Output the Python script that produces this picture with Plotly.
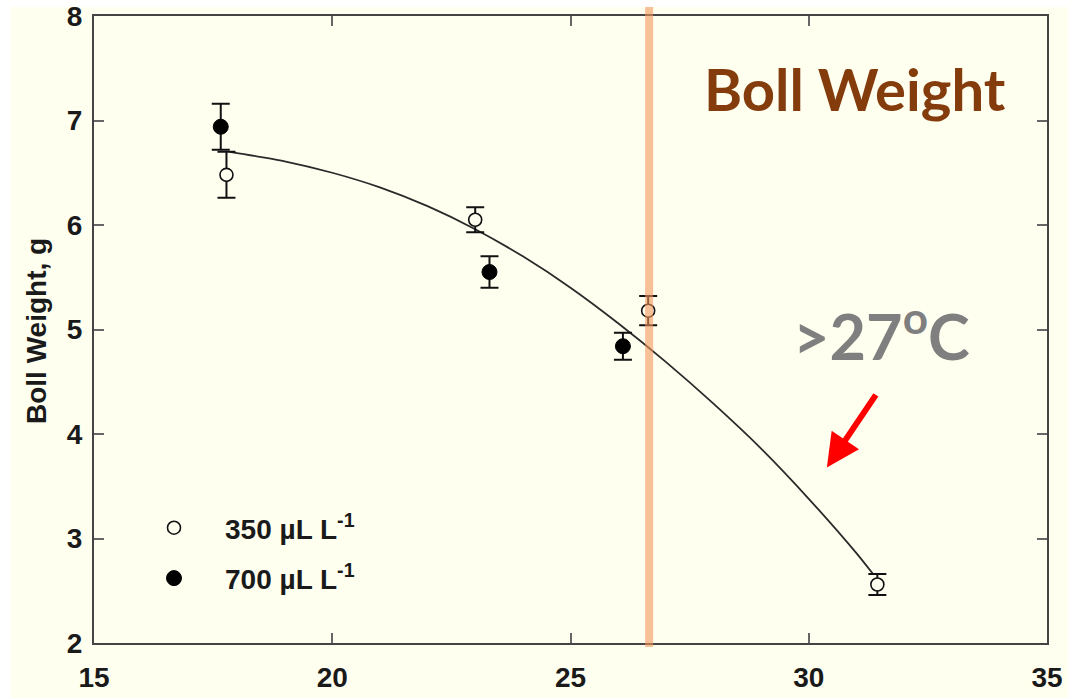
import plotly.graph_objects as go

# Data
temp_350 = [17.78, 23.0, 26.63, 31.44]
wt_350 = [6.48, 6.05, 5.18, 2.56]
err_350 = [0.22, 0.12, 0.14, 0.10]

temp_700 = [17.66, 23.3, 26.1]
wt_700 = [6.94, 5.55, 4.84]
err_700 = [0.22, 0.15, 0.13]

fit_x = [17.85, 19.0, 20.0, 21.0, 22.0, 23.0, 24.0, 25.0, 26.0, 27.0, 28.0, 29.0, 30.0, 31.0, 31.35]
fit_y = [6.70, 6.61, 6.50, 6.36, 6.18, 5.96, 5.70, 5.40, 5.06, 4.69, 4.29, 3.86, 3.38, 2.86, 2.66]

x_ticks = [15, 20, 25, 30, 35]
y_ticks = [2, 3, 4, 5, 6, 7, 8]
threshold_x = 26.65

BG = "#FFFFF0"
W, H = 1068, 698
L, R, T, B = 94, 21, 16, 55
pw, ph = W - L - R, H - T - B

# helpers: pixel -> paper coordinates
def px(xp):
    return (xp - L) / pw

def py(yp):
    return (H - B - yp) / ph

fig = go.Figure()

fig.add_trace(go.Scatter(
    x=fit_x, y=fit_y, mode="lines", line=dict(color="#2a2a2a", width=1.8, shape="spline", smoothing=0.6),
    showlegend=False, hoverinfo="skip"))

fig.add_trace(go.Scatter(
    x=temp_350, y=wt_350, mode="markers", name="350 µL L<sup>-1</sup>",
    legendgroup="a",
    marker=dict(symbol="circle", size=13, color=BG, line=dict(color="#111", width=1.6)),
    error_y=dict(type="data", array=err_350, color="#111", thickness=2, width=9)))

fig.add_trace(go.Scatter(
    x=temp_700, y=wt_700, mode="markers", name="700 µL L<sup>-1</sup>",
    legendgroup="b",
    marker=dict(symbol="circle", size=15, color="#000", line=dict(color="#000", width=1)),
    error_y=dict(type="data", array=err_700, color="#111", thickness=2, width=9)))

axis_common = dict(
    showgrid=False, zeroline=False, showline=True, linecolor="#444", linewidth=2,
    mirror="ticks", ticks="inside", ticklen=10, tickwidth=1.5, tickcolor="#666",
    automargin=False, ticklabeloverflow="allow",
    tickfont=dict(family="Liberation Sans, Arial", size=28, color="#1a1a1a", weight="bold"),
)

fig.update_layout(
    width=W, height=H,
    margin=dict(l=L, r=R, t=T, b=B, autoexpand=False),
    paper_bgcolor=BG, plot_bgcolor=BG,
    xaxis=dict(range=[15, 35], tickvals=x_ticks, ticklabelstandoff=8, **axis_common),
    yaxis=dict(range=[2, 8], tickvals=y_ticks, ticklabelstandoff=4, **axis_common),
    showlegend=True,
    legend=dict(
        x=px(123), y=py(503), xanchor="left", yanchor="top",
        bgcolor="rgba(0,0,0,0)", traceorder="grouped", tracegroupgap=11,
        itemwidth=92,
        font=dict(family="Liberation Sans, Arial", size=28, color="#1a1a1a", weight="bold"),
    ),
)

# white strips at the top and left edges of the picture
fig.add_shape(type="rect", xref="paper", yref="paper", x0=px(-2), x1=px(W + 2), y0=py(7), y1=py(-2),
              fillcolor="white", line=dict(width=0), layer="below")
fig.add_shape(type="rect", xref="paper", yref="paper", x0=px(-2), x1=px(11), y0=py(H + 2), y1=py(-2),
              fillcolor="white", line=dict(width=0), layer="below")

# threshold band
fig.add_shape(type="line", xref="x", yref="paper", x0=threshold_x, x1=threshold_x,
              y0=py(647), y1=py(7), line=dict(color="rgba(242,150,90,0.6)", width=8), layer="above")

fig.add_annotation(text="Boll Weight, g", textangle=-90, xref="paper", yref="paper",
                   x=px(36), y=py(331), xanchor="center", yanchor="middle", showarrow=False,
                   font=dict(family="Liberation Sans, Arial", size=28, color="#1a1a1a", weight="bold"))

fig.add_annotation(text="Boll Weight", xref="paper", yref="paper", x=px(855), y=py(89),
                   xanchor="center", yanchor="middle", showarrow=False,
                   font=dict(family="Lato", size=58, color="#843C0C", weight="bold"))

fig.add_annotation(text=">27<sup>o</sup>C", xref="paper", yref="paper", x=px(881), y=py(331),
                   xanchor="center", yanchor="middle", showarrow=False,
                   font=dict(family="Lato", size=63, color="#7F7F7F", weight="bold"))

fig.add_annotation(text="", x=30.38, y=3.68, xref="x", yref="y", ax=50, ay=-74,
                   showarrow=True, arrowhead=2, arrowsize=1.1, arrowwidth=6, arrowcolor="#FF0000")

fig.write_html("out.html", config={"displayModeBar": False},
               post_script="document.body.style.margin='0';")
